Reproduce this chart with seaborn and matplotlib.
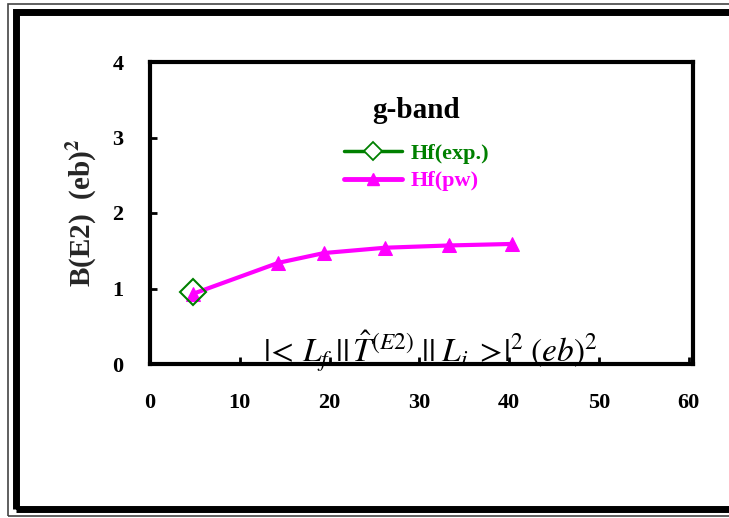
import matplotlib
matplotlib.use("Agg")
import matplotlib.pyplot as plt
import seaborn as sns
import pandas as pd
from matplotlib.patches import Rectangle
from matplotlib.lines import Line2D

sns.set_theme(style="white")
plt.rcParams['font.family'] = ['Liberation Serif', 'DejaVu Serif']
plt.rcParams['mathtext.fontset'] = 'stix'

# data
exp_x = [4.8]
exp_y = [0.95]
pw_x = [4.8, 14.3, 19.4, 26.2, 33.3, 40.3]
pw_y = [0.93, 1.34, 1.47, 1.54, 1.57, 1.59]
x_ticks = [0, 10, 20, 30, 40, 50, 60]
y_ticks = [0, 1, 2, 3, 4]

W, H = 729, 518
fig = plt.figure(figsize=(W / 100, H / 100), dpi=100)
ax = fig.add_axes([150 / W, 1 - 364 / H, (693 - 150) / W, (364 - 62) / H])

df_pw = pd.DataFrame({"x": pw_x, "y": pw_y})
df_exp = pd.DataFrame({"x": exp_x, "y": exp_y})

sns.lineplot(data=df_pw, x="x", y="y", ax=ax, color="#ff00ff", lw=3,
             marker="^", markersize=10, markeredgecolor="#ff00ff", zorder=3)
sns.lineplot(data=df_exp, x="x", y="y", ax=ax, color="#008000", lw=2,
             marker="D", markersize=13, markerfacecolor="none",
             markeredgecolor="#008000", markeredgewidth=1.5, zorder=4)

ax.set_xlim(0, 60.5)
ax.set_ylim(0, 4)
ax.set_xticks(x_ticks)
ax.set_yticks(y_ticks)
ax.set_xticklabels([str(v) for v in x_ticks], fontweight="bold", fontsize=16)
ax.set_yticklabels([str(v) for v in y_ticks], fontweight="bold", fontsize=16)
ax.tick_params(axis="x", direction="in", length=5, width=2, pad=21, colors="black")
ax.tick_params(axis="y", direction="in", length=5, width=2, pad=19, colors="black")
ax.tick_params(bottom=True, left=True)
for s in ax.spines.values():
    s.set_linewidth(3)
    s.set_color("black")
ax.set_xlabel("")
ax.set_ylabel(r"B(E2)  (eb)$^{\mathbf{2}}$", fontweight="bold", fontsize=21, labelpad=10)
ax.grid(False)

ax.text(31.2, 0.17, r"$|\!<\,L_f\;||\,\hat{T}^{(E2)}\;||\;L_i\;>\!|^2\;(eb)^2$",
        fontsize=24, ha="center", va="center", color="black")

handles = [
    Line2D([], [], color="#008000", lw=2.5, marker="D", markersize=9,
           markerfacecolor="white", markeredgecolor="#008000", markeredgewidth=1.3),
    Line2D([], [], color="#ff00ff", lw=3.5, marker="^", markersize=9),
]
leg = ax.legend(handles, ["Hf(exp.)", "Hf(pw)"], loc="upper left",
                bbox_to_anchor=(0.32, 0.95), frameon=False, title="g-band",
                handlelength=2.6, handletextpad=0.4, labelspacing=0.3,
                prop={"weight": "bold", "size": 16})
leg.get_title().set_fontweight("bold")
leg.get_title().set_fontsize(21)
leg.get_title().set_color("black")
leg._legend_box.sep = 14
for t, c in zip(leg.get_texts(), ["#008000", "#ff00ff"]):
    t.set_color(c)

# figure border
def rect(x0, y0, x1, y1, lw, color):
    fig.add_artist(Rectangle((x0 / W, 1 - y1 / H), (x1 - x0) / W, (y1 - y0) / H,
                             transform=fig.transFigure, fill=False, lw=lw,
                             edgecolor=color))
rect(8, 4, 740, 516, 1.2, "#444444")
rect(16, 11.5, 740, 508.5, 5, "black")

fig.savefig("out.png", dpi=100)
